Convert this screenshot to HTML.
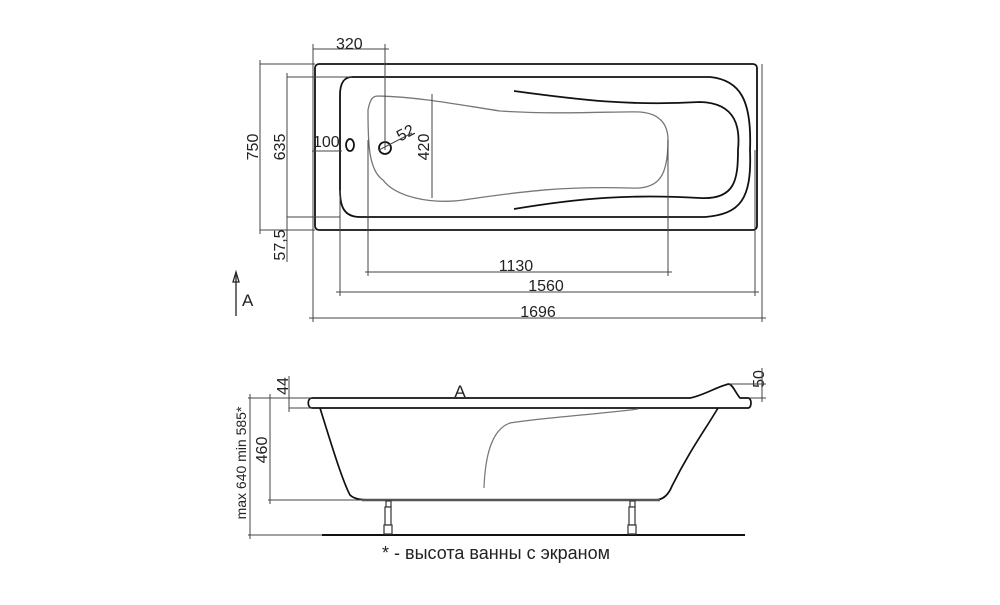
<!DOCTYPE html>
<html><head><meta charset="utf-8"><style>
body{margin:0;background:#fff}
svg text{font-family:"Liberation Sans","DejaVu Sans",sans-serif;fill:#222}
</style></head><body>
<svg width="1000" height="600" viewBox="0 0 1000 600" xmlns="http://www.w3.org/2000/svg">
<g fill="none" stroke="#111" stroke-width="1.8">
<rect x="315" y="64" width="442" height="166" rx="4"/>
<path d="M352 77 H710 C740 80 752 100 750 150 C752 200 740 214 705 217 H360 C343 217 340 205 340 190 V95 C340 82 345 77 352 77 Z"/>
<path d="M514 91 C580 100 630 106 700 102 C738 103 740 130 738 150 C738 180 735 200 700 198 C630 194 580 198 514 209"/>
<ellipse cx="350" cy="145" rx="4" ry="6"/>
<circle cx="385" cy="148" r="6"/>
</g>
<path d="M378 96 C420 97 460 105 500 111 C560 115 620 111 640 112 C668 114 668 135 668 140 C668 175 660 190 630 188 C560 186 520 192 470 199 C430 206 395 196 383 180 C368 170 368 140 368 110 C370 100 372 96 378 96 Z" fill="none" stroke="#777" stroke-width="1.3"/>
<g stroke="#444" stroke-width="1" fill="none">
<line x1="260" y1="64" x2="315" y2="64"/><line x1="260" y1="230" x2="315" y2="230"/>
<line x1="260" y1="60" x2="260" y2="234"/>
<line x1="287" y1="77" x2="352" y2="77"/><line x1="287" y1="217" x2="340" y2="217"/>
<line x1="287" y1="73" x2="287" y2="262"/>
<line x1="432" y1="94" x2="432" y2="198"/>
<line x1="312" y1="151" x2="342" y2="151"/>
<line x1="313" y1="49" x2="389" y2="49"/>
<line x1="385" y1="44" x2="385" y2="150"/>
<line x1="313" y1="44" x2="313" y2="322"/>
<line x1="379" y1="150" x2="412" y2="133"/>
<line x1="340" y1="190" x2="340" y2="296"/><line x1="755" y1="150" x2="755" y2="296"/>
<line x1="762" y1="64" x2="762" y2="322"/>
<line x1="368" y1="140" x2="368" y2="276"/><line x1="668" y1="140" x2="668" y2="276"/>
<line x1="365" y1="272" x2="672" y2="272"/>
<line x1="336" y1="292" x2="759" y2="292"/>
<line x1="309" y1="318" x2="766" y2="318"/>
</g>
<g fill="#222" font-size="16">
<text x="336" y="49">320</text>
<text x="313" y="147">100</text>
<text x="397" y="139" transform="rotate(-28 404 134)">52</text>
<text transform="translate(432 147) rotate(-90)" text-anchor="middle" y="-3">420</text>
<text transform="translate(258 147) rotate(-90)" text-anchor="middle">750</text>
<text transform="translate(285 147) rotate(-90)" text-anchor="middle">635</text>
<text transform="translate(285 245) rotate(-90)" text-anchor="middle">57,5</text>
<text x="516" y="271" text-anchor="middle">1130</text>
<text x="546" y="291" text-anchor="middle">1560</text>
<text x="538" y="317" text-anchor="middle">1696</text>
<text x="242" y="306" font-size="17">A</text>
<text x="460" y="397" font-size="17" text-anchor="middle">A</text>
<text transform="translate(288 386) rotate(-90)" text-anchor="middle">44</text>
<text transform="translate(267 450) rotate(-90)" text-anchor="middle">460</text>
<text transform="translate(246 463) rotate(-90)" text-anchor="middle" font-size="14">max 640 min 585*</text>
<text transform="translate(764 379) rotate(-90)" text-anchor="middle">50</text>
<text x="496" y="559" text-anchor="middle" font-size="18">* - высота ванны с экраном</text>
</g>
<g stroke="#222" stroke-width="1.3" fill="none">
<line x1="236" y1="275" x2="236" y2="316"/>
<path d="M233 282 L236 272 L239 282 Z"/>
</g>
<g fill="none" stroke="#111" stroke-width="1.7">
<path d="M312 398 H690 C705 395 718 386 729 384 C733 385 735 392 740 398 H748 C752 398 752 408 748 408 H312 C307 408 307 398 312 398 Z"/>
<path d="M320 408 C330 440 342 480 350 495 C355 500 365 500 372 500 H655 C662 500 668 496 672 486 C690 450 705 430 718 408"/>
<line x1="322" y1="535" x2="745" y2="535" stroke-width="2"/>
<path d="M362 500 H660" stroke="#555" stroke-width="2.5"/>
</g>
<path d="M638 409 C600 414 540 418 510 423 C490 430 485 460 484 488" fill="none" stroke="#777" stroke-width="1.2"/>
<g stroke="#333" stroke-width="1.2" fill="#fff">
<rect x="386" y="501" width="5" height="6"/><rect x="385" y="507" width="6" height="18"/><rect x="384" y="525" width="8" height="9"/>
<rect x="630" y="501" width="5" height="6"/><rect x="629" y="507" width="6" height="18"/><rect x="628" y="525" width="8" height="9"/>
</g>
<g stroke="#444" stroke-width="1">
<line x1="248" y1="398" x2="312" y2="398"/><line x1="289" y1="408" x2="312" y2="408"/>
<line x1="268" y1="500" x2="362" y2="500"/><line x1="248" y1="535" x2="322" y2="535"/>
<line x1="289" y1="376" x2="289" y2="412"/>
<line x1="270" y1="394" x2="270" y2="504"/>
<line x1="250" y1="394" x2="250" y2="539"/>
<line x1="729" y1="384" x2="766" y2="384"/><line x1="750" y1="398" x2="766" y2="398"/>
<line x1="762" y1="368" x2="762" y2="402"/>
</g>
</svg>
</body></html>
